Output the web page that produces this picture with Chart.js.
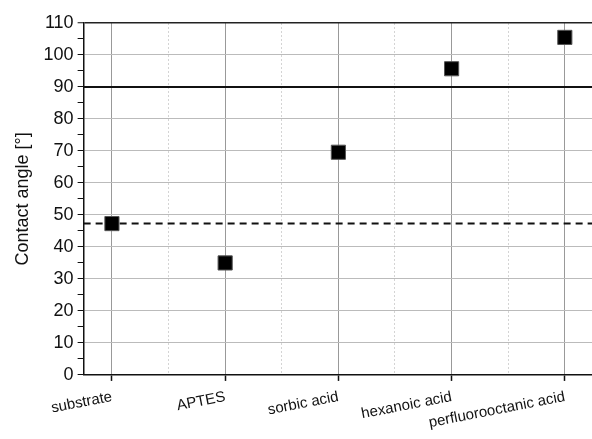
<!DOCTYPE html>
<html lang="en">
<head>
    <meta charset="UTF-8">
    <title>Contact angle</title>
    <script src="https://cdn.jsdelivr.net/npm/chart.js"></script>
    <style>
        html, body { margin: 0; padding: 0; background: #fff; overflow: hidden; }
        #chart-container { width: 592px; height: 439px; }
        canvas { display: block; }
    </style>
</head>
<body>
    <div id="chart-container">
        <canvas id="angleChart" width="592" height="439"></canvas>
    </div>
    <script>
        // data
        var categories = ['substrate', 'APTES', 'sorbic acid', 'hexanoic acid', 'perfluorooctanic acid'];
        var contactAngle = [47.3, 35.0, 69.6, 95.7, 105.5];
        var substrateLevel = 47.3;   // dashed line
        var hydrophobicLevel = 90;   // solid line
        var yTicks = [0, 10, 20, 30, 40, 50, 60, 70, 80, 90, 100, 110];
        var yMinorTicks = [5, 15, 25, 35, 45, 55, 65, 75, 85, 95, 105];
        var xMinorGrid = [0.5, 1.5, 2.5, 3.5];

        var xMin = -0.25, xMax = 4.24;

        var points = categories.map(function(c, i) { return { x: i, y: contactAngle[i] }; });

        var ctx = document.getElementById('angleChart').getContext('2d');
        Chart.defaults.font.family = '"Liberation Sans", Arial, sans-serif';
        Chart.defaults.color = '#111';

        window.myChart = new Chart(ctx, {
            type: 'scatter',
            data: {
                datasets: [
                    {
                        label: 'contact angle',
                        data: points,
                        pointStyle: 'rect',
                        pointRadius: 10,
                        backgroundColor: '#000',
                        borderColor: '#555',
                        borderWidth: 1
                    },
                    {
                        label: '90',
                        data: [{ x: xMin, y: hydrophobicLevel }, { x: xMax, y: hydrophobicLevel }],
                        showLine: true,
                        borderColor: '#111',
                        borderWidth: 2,
                        pointRadius: 0
                    },
                    {
                        label: 'substrate',
                        data: [{ x: xMin, y: substrateLevel }, { x: xMax, y: substrateLevel }],
                        showLine: true,
                        borderColor: '#111',
                        borderWidth: 2,
                        borderDash: [7, 5],
                        pointRadius: 0
                    }
                ]
            },
            options: {
                responsive: false,
                animation: false,
                // autoPadding off, otherwise the point radius eats the right edge
                layout: { autoPadding: false, padding: { top: 23, right: 0, left: 12, bottom: 0 } },
                plugins: {
                    legend: { display: false },
                    tooltip: { enabled: false }
                },
                scales: {
                    x2: {
                        type: 'linear',
                        min: xMin,
                        max: xMax,
                        position: 'bottom',
                        afterBuildTicks: function(s) { s.ticks = xMinorGrid.map(function(v) { return { value: v }; }); },
                        ticks: { display: false },
                        grid: { color: '#d4d4d4', lineWidth: 1, drawTicks: false },
                        border: { display: false, dash: [2, 2] }
                    },
                    x: {
                        type: 'linear',
                        min: xMin,
                        max: xMax,
                        position: 'bottom',
                        afterBuildTicks: function(s) { s.ticks = categories.map(function(c, i) { return { value: i }; }); },
                        ticks: {
                            autoSkip: false,
                            minRotation: 11,
                            maxRotation: 11,
                            padding: 7,
                            font: { size: 15 },
                            callback: function(v) { return categories[v]; }
                        },
                        grid: { color: '#999', lineWidth: 1, tickColor: '#111', tickLength: 6, tickWidth: 1.5 },
                        border: { color: '#111', width: 1.5 }
                    },
                    y: {
                        min: 0,
                        max: 110,
                        afterBuildTicks: function(s) {
                            s.ticks = yTicks.concat(yMinorTicks).sort(function(a, b) { return a - b; })
                                .map(function(v) { return { value: v }; });
                        },
                        ticks: {
                            autoSkip: false,
                            padding: 4,
                            font: { size: 18 },
                            callback: function(v) { return v % 10 === 0 ? v : ''; }
                        },
                        grid: {
                            color: function(c) {
                                var v = c.tick.value;
                                if (v === 110) return '#222';
                                return v % 10 === 0 ? '#bbb' : 'rgba(0,0,0,0)';
                            },
                            lineWidth: function(c) { return c.tick.value === 110 ? 1.5 : 1; },
                            tickColor: '#111',
                            tickLength: 6,
                            tickWidth: 1
                        },
                        border: { color: '#111', width: 1.5 },
                        title: {
                            display: true,
                            text: 'Contact angle [°]',
                            font: { size: 18 },
                            padding: { top: 0, bottom: 6 }
                        }
                    }
                }
            }
        });
    </script>
</body>
</html>
